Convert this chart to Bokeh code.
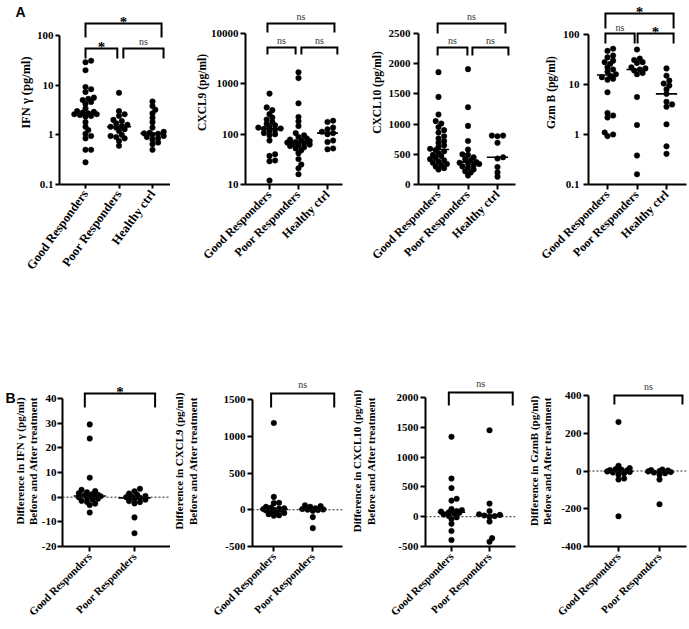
import numpy as np
from bokeh.plotting import figure
from bokeh.layouts import row, column
from bokeh.models import Range1d, FixedTicker, Span, Label
from bokeh.embed import file_html
from bokeh.resources import INLINE
from bokeh.core.properties import value

# ---------------- categories ----------------
groups_a = ["Good Responders", "Poor Responders", "Healthy ctrl"]
groups_b = ["Good Responders", "Poor Responders"]

# ---------------- panel A data (pg/ml) ----------------
ifng_good = [31, 29, 20, 9.2, 8.3, 7.3, 5.6, 5.3, 5.0, 4.6, 4.2, 3.4, 3.0, 2.9, 2.8, 2.7, 2.6, 2.6, 2.5, 2.4, 2.3, 1.8, 1.45, 1.25, 1.05, 0.95, 0.85, 0.5, 0.5, 0.28]
ifng_poor = [7.0, 3.0, 2.6, 2.4, 2.0, 1.9, 1.7, 1.6, 1.5, 1.45, 1.4, 1.3, 1.2, 1.0, 0.95, 0.9, 0.85, 0.75, 0.6]
ifng_healthy = [4.7, 3.8, 3.2, 2.7, 2.2, 1.8, 1.4, 1.15, 1.1, 1.07, 1.05, 1.0, 0.95, 0.9, 0.85, 0.8, 0.7, 0.65, 0.5]

cxcl9_good = [640, 340, 300, 250, 215, 195, 175, 160, 150, 140, 135, 130, 128, 122, 115, 105, 100, 95, 75, 40, 37, 30, 29, 12]
cxcl9_poor = [1700, 1300, 410, 220, 180, 145, 105, 95, 88, 82, 78, 76, 73, 70, 68, 66, 64, 62, 60, 58, 55, 52, 48, 42, 32, 25, 21, 16]
cxcl9_healthy = [185, 175, 135, 125, 112, 105, 100, 75, 70, 52, 50]

cxcl10_good = [1860, 1450, 1160, 1050, 1010, 950, 900, 860, 800, 760, 720, 690, 650, 620, 590, 570, 550, 520, 490, 470, 440, 420, 400, 380, 360, 340, 320, 300, 270, 250]
cxcl10_poor = [1910, 1280, 970, 720, 580, 500, 490, 450, 420, 400, 370, 360, 350, 340, 320, 300, 280, 250, 220, 200, 150]
cxcl10_healthy = [810, 800, 810, 690, 450, 430, 290, 200, 130]

gzmb_good = [52, 47, 38, 35, 30, 28, 26, 22, 20, 18, 16, 15, 14, 13, 12.5, 7, 2.7, 2.4, 2.2, 1.1, 1.0, 0.93]
gzmb_poor = [50, 33, 31, 28, 27, 22, 21, 20, 19, 17, 16, 5.6, 1.55, 0.38, 0.16]
gzmb_healthy = [21, 15, 12, 10.5, 9.5, 8, 6.5, 4.5, 4.0, 3.6, 1.6, 0.58, 0.41]

# ---------------- panel B data (difference before/after) ----------------
d_ifng_good = [29.5, 23.8, 7.9, 3.0, 2.5, 2.0, 1.6, 1.3, 1.0, 0.8, 0.6, 0.4, 0.2, 0.0, -0.3, -0.6, -1.0, -1.5, -2.0, -2.6, -3.2, -6.2]
d_ifng_poor = [3.4, 2.4, 1.5, 1.0, 0.5, 0.2, 0.0, -0.3, -0.6, -1.0, -1.6, -2.0, -2.5, -8.2, -14.6]
d_cxcl9_good = [1180, 175, 95, 90, 40, 30, 20, 15, 10, 5, 0, -5, -10, -20, -35, -45, -60, -75, -80]
d_cxcl9_poor = [60, 50, 40, 20, 10, 5, 0, -5, -15, -100, -250]
d_cxcl10_good = [1340, 640, 480, 300, 270, 130, 110, 95, 85, 75, 65, 55, 35, 10, -10, -40, -120, -240, -390]
d_cxcl10_poor = [1450, 220, 95, 40, 30, 20, 10, 0, -80, -360, -420]
d_gzmb_good = [260, 28, 15, 10, 8, 5, 3, 0, -2, -5, -8, -12, -20, -40, -45, -240]
d_gzmb_poor = [8, 5, 3, 0, -2, -5, -8, -12, -20, -45, -176]

# ---------------- tick values / labels ----------------
ifng_ticks = [0.1, 1, 10, 100]
ifng_tick_labels = ["0.1", "1", "10", "100"]
cxcl9_ticks = [10, 100, 1000, 10000]
cxcl9_tick_labels = ["10", "100", "1000", "10000"]
cxcl10_ticks = [0, 500, 1000, 1500, 2000, 2500]
cxcl10_tick_labels = ["0", "500", "1000", "1500", "2000", "2500"]
gzmb_ticks = [0.1, 1, 10, 100]
gzmb_tick_labels = ["0.1", "1", "10", "100"]
d_ifng_ticks = [-20, -10, 0, 10, 20, 30, 40]
d_ifng_tick_labels = ["-20", "-10", "0", "10", "20", "30", "40"]
d_cxcl9_ticks = [-500, 0, 500, 1000, 1500]
d_cxcl9_tick_labels = ["-500", "0", "500", "1000", "1500"]
d_cxcl10_ticks = [-500, 0, 500, 1000, 1500, 2000]
d_cxcl10_tick_labels = ["-500", "0", "500", "1000", "1500", "2000"]
d_gzmb_ticks = [-400, -200, 0, 200, 400]
d_gzmb_tick_labels = ["-400", "-200", "0", "200", "400"]

# significance: A = (Good vs Healthy, Good vs Poor, Poor vs Healthy); B = (Good vs Poor)
ifng_sig = ["*", "*", "ns"]
cxcl9_sig = ["ns", "ns", "ns"]
cxcl10_sig = ["ns", "ns", "ns"]
gzmb_sig = ["*", "ns", "*"]
d_ifng_sig = ["*"]
d_cxcl9_sig = ["ns"]
d_cxcl10_sig = ["ns"]
d_gzmb_sig = ["ns"]

SERIF = "Liberation Serif"

# ---------------- layout geometry (page pixels) ----------------
# columns: (figure left, figure right, frame left = y axis, frame right)
COLS = [(0, 170, 59, 170), (170, 348, 245, 342), (348, 521, 418, 515), (521, 689, 588, 686)]
# rows: (figure top, figure bottom, frame top, frame bottom)
ROW_A = (0, 368, 0, 184)
ROW_B = (368, 629, 375, 546)

panels_a = [
    dict(groups=groups_a, data=[ifng_good, ifng_poor, ifng_healthy], ylabel="IFN \u03b3 (pg/ml)",
         ticks=ifng_ticks, labels=ifng_tick_labels, sig=ifng_sig, ylog=True, bounds=(0.1, 100),
         cal=((100, 35), (0.1, 184)), c0=85, sp=33.5,
         brackets=[(0, 2.27, 23, 37), (0, 0.95, 48, 58), (1.13, 2.33, 48, 58)], ns_off=-7,
         tick_out=4, lab_so=2, axlab_so=1, xangle=0.94, xfs="12.5px", ylfs="12.5px"),
    dict(groups=groups_a, data=[cxcl9_good, cxcl9_poor, cxcl9_healthy], ylabel="CXCL9 (pg/ml)",
         ticks=cxcl9_ticks, labels=cxcl9_tick_labels, sig=cxcl9_sig, ylog=True, bounds=(10, 10000),
         cal=((10000, 33), (10, 184)), c0=269, sp=29,
         brackets=[(-0.07, 2.24, 23, 32), (-0.07, 0.9, 47, 54), (1.1, 2.34, 47, 54)], ns_off=-7,
         tick_out=5, lab_so=2, axlab_so=0, xangle=np.pi / 4, xfs="12px", ylfs="11.5px"),
    dict(groups=groups_a, data=[cxcl10_good, cxcl10_poor, cxcl10_healthy], ylabel="CXCL10 (pg/ml)",
         ticks=cxcl10_ticks, labels=cxcl10_tick_labels, sig=cxcl10_sig, ylog=False, bounds=(0, 2500),
         cal=((2500, 33), (0, 184)), c0=438, sp=29.5,
         brackets=[(-0.03, 2.27, 23, 33), (-0.03, 0.98, 47, 55), (1.15, 2.37, 47, 55)], ns_off=-7,
         tick_out=5, lab_so=3, axlab_so=3, xangle=np.pi / 4, xfs="12px", ylfs="11.5px"),
    dict(groups=groups_a, data=[gzmb_good, gzmb_poor, gzmb_healthy], ylabel="Gzm B (pg/ml)",
         ticks=gzmb_ticks, labels=gzmb_tick_labels, sig=gzmb_sig, ylog=True, bounds=(0.1, 100),
         cal=((100, 34), (0.1, 184)), c0=607, sp=29.5,
         brackets=[(-0.07, 2.24, 13, 28), (-0.07, 0.92, 33, 43), (1.02, 2.24, 33, 43)], ns_off=-6,
         tick_out=5, lab_so=4, axlab_so=3, xangle=np.pi / 4, xfs="12px", ylfs="11.5px"),
]
panels_b = [
    dict(groups=groups_b, data=[d_ifng_good, d_ifng_poor],
         ylabel="Difference in IFN \u03b3 (pg/ml)\nBefore and After treatment",
         ticks=d_ifng_ticks, labels=d_ifng_tick_labels, sig=d_ifng_sig, ylog=False, bounds=(-20, 40),
         cal=((40, 398), (-20, 546)), c0=87, sp=46,
         brackets=[(-0.11, 1.46, 393, 407)], ns_off=-9,
         tick_out=5, lab_so=1, axlab_so=0, xangle=np.pi / 4, xfs="11px", ylfs="11px"),
    dict(groups=groups_b, data=[d_cxcl9_good, d_cxcl9_poor],
         ylabel="Difference in CXCL9 (pg/ml)\nBefore and After treatment",
         ticks=d_cxcl9_ticks, labels=d_cxcl9_tick_labels, sig=d_cxcl9_sig, ylog=False, bounds=(-500, 1500),
         cal=((1500, 399), (-500, 546)), c0=268, sp=42,
         brackets=[(-0.07, 1.55, 393, 407)], ns_off=-9,
         tick_out=5, lab_so=2, axlab_so=22, xangle=np.pi / 4, xfs="11px", ylfs="11px"),
    dict(groups=groups_b, data=[d_cxcl10_good, d_cxcl10_poor],
         ylabel="Difference in CXCL10 (pg/ml)\nBefore and After treatment",
         ticks=d_cxcl10_ticks, labels=d_cxcl10_tick_labels, sig=d_cxcl10_sig, ylog=False, bounds=(-500, 2000),
         cal=((2000, 397), (-500, 546)), c0=446, sp=41,
         brackets=[(-0.07, 1.61, 392, 405)], ns_off=-9,
         tick_out=5, lab_so=2, axlab_so=17, xangle=np.pi / 4, xfs="11px", ylfs="11px"),
    dict(groups=groups_b, data=[d_gzmb_good, d_gzmb_poor],
         ylabel="Difference in GzmB (pg/ml)\nBefore and After treatment",
         ticks=d_gzmb_ticks, labels=d_gzmb_tick_labels, sig=d_gzmb_sig, ylog=False, bounds=(-400, 400),
         cal=((400, 395), (-400, 546)), c0=618, sp=41,
         brackets=[(-0.1, 1.56, 395, 404)], ns_off=-9,
         tick_out=5, lab_so=2, axlab_so=5, xangle=np.pi / 4, xfs="11px", ylfs="11px"),
]

DOT = 5.6
HALF_W = 13.0  # max horizontal half-spread of a group, px


def swarm(px_vals, diam, step, overlap=0.72):
    """deterministic beeswarm offsets (pixels) for dot centres at given pixel heights"""
    order = np.argsort(px_vals)
    cands = [0.0]
    k = 1
    while k * step <= HALF_W:
        cands += [k * step, -k * step]
        k += 1
    placed = []
    offs = np.zeros(len(px_vals))
    lim = diam * overlap
    for i in order:
        y = px_vals[i]
        best, best_d = 0.0, -1.0
        for c in cands:
            d = min([np.hypot(c - pxo, y - pyo) for pxo, pyo in placed] or [1e9])
            if d >= lim:
                best = c
                break
            if d > best_d + 1e-9:
                best, best_d = c, d
        offs[i] = best
        placed.append((best, y))
    return offs


def make_panel(c, col, rw, zero_line=False, letter=None):
    fx0, fx1, fl, fr = col
    rt, rb, ft, fb = rw
    W, H = fx1 - fx0, rb - rt
    xs = (fl - c["c0"]) / c["sp"]
    xe = (fr - c["c0"]) / c["sp"]
    ylog = c["ylog"]
    f = (lambda v: np.log10(v)) if ylog else (lambda v: v)
    finv = (lambda t: 10 ** t) if ylog else (lambda t: t)
    (vh, ryh), (vl, ryl) = c["cal"]
    per_px = (f(vh) - f(vl)) / (ryl - ryh)
    lo = f(vl) - (fb - ryl) * per_px
    hi = f(vh) + (ryh - ft) * per_px
    p = figure(width=W, height=H, x_range=Range1d(xs, xe), y_range=Range1d(finv(lo), finv(hi)),
               y_axis_type="log" if ylog else "linear", title=None,
               output_backend="svg", toolbar_location=None,
               min_border_left=fl - fx0, min_border_right=fx1 - fr,
               min_border_top=ft - rt, min_border_bottom=rb - fb)
    p.outline_line_color = None
    p.xgrid.visible = False
    p.ygrid.visible = False
    p.background_fill_color = "white"
    p.border_fill_color = "white"

    def to_px(v):
        return (f(np.asarray(v, dtype=float)) - lo) / per_px

    def ref_to_val(ry):
        return finv(lo + (fb - ry) * per_px)

    if zero_line:
        p.add_layout(Span(location=0, dimension="width", line_color="#222222",
                          line_width=1, line_dash="2 2"))

    # dots and medians
    for gi, vals in enumerate(c["data"]):
        vals = np.asarray(vals, dtype=float)
        offs = swarm(to_px(vals), DOT, DOT * 0.5)
        p.scatter(gi + offs / c["sp"], vals, size=DOT, color="black", line_color="black", line_width=0.4)
        med = float(np.median(vals))
        p.segment(x0=[gi - 0.36], x1=[gi + 0.36], y0=[med], y1=[med], line_color="black", line_width=1.6)

    # significance brackets
    bx, by, sx, sy, st, nx, ny, nt = [], [], [], [], [], [], [], []
    for (a, b, ly, leg), s in zip(c["brackets"], c["sig"]):
        yl, yg = ref_to_val(ly), ref_to_val(leg)
        bx.append([a, a, b, b])
        by.append([yg, yl, yl, yg])
        if s == "*":
            sx.append((a + b) / 2); sy.append(yl); st.append(s)
        else:
            nx.append((a + b) / 2); ny.append(yl); nt.append(s)
    p.multi_line(bx, by, line_color="black", line_width=2, line_join="miter")
    if st:
        p.text(sx, sy, text=st, text_align="center", text_baseline="alphabetic",
               text_font=value(SERIF), text_font_style="bold", text_font_size="15px",
               y_offset=-2, text_color="black")
    if nt:
        p.text(nx, ny, text=nt, text_align="center", text_baseline="alphabetic",
               text_font=value(SERIF), text_font_size="10px", y_offset=c["ns_off"], text_color="#333333")

    # axes
    xa, ya = p.xaxis[0], p.yaxis[0]
    xa.ticker = FixedTicker(ticks=list(range(len(c["groups"]))))
    xa.major_label_overrides = {i: g for i, g in enumerate(c["groups"])}
    xa.major_label_orientation = c["xangle"]
    xa.major_label_text_font_size = c["xfs"]
    xa.major_label_standoff = 3
    ya.ticker = FixedTicker(ticks=c["ticks"])
    ya.major_label_overrides = {t: l for t, l in zip(c["ticks"], c["labels"])}
    ya.bounds = c["bounds"]
    ya.axis_label = c["ylabel"]
    ya.axis_label_text_font = SERIF
    ya.axis_label_text_font_style = "bold"
    ya.axis_label_text_font_size = c["ylfs"]
    ya.axis_label_text_color = "black"
    ya.axis_label_text_line_height = 1.1
    ya.axis_label_standoff = c["axlab_so"]
    ya.major_label_standoff = c["lab_so"]
    ya.major_label_text_font_size = "11px"
    for ax in (xa, ya):
        ax.axis_line_width = 2
        ax.axis_line_color = "black"
        ax.major_tick_line_width = 2
        ax.major_tick_line_color = "black"
        ax.major_tick_in = 0
        ax.major_tick_out = c["tick_out"]
        ax.minor_tick_line_color = None
        ax.major_label_text_font = SERIF
        ax.major_label_text_font_style = "bold"
        ax.major_label_text_color = "black"

    if letter is not None:
        # panel letter in the left side panel (not clipped by the frame), placed in canvas pixels
        txt, lx, ly = letter
        lab = Label(x=lx - fx0, y=ly - rt, x_units="canvas", y_units="canvas",
                    text=txt, text_font="Liberation Sans", text_font_style="bold",
                    text_font_size="14px", text_baseline="top", text_color="black")
        p.add_layout(lab, "left")
    return p


figs_a = [make_panel(c, COLS[i], ROW_A, letter=("A", 15, 3) if i == 0 else None)
          for i, c in enumerate(panels_a)]
figs_b = [make_panel(c, COLS[i], ROW_B, zero_line=True, letter=("B", 5, 389) if i == 0 else None)
          for i, c in enumerate(panels_b)]

layout = column(row(*figs_a, spacing=0), row(*figs_b, spacing=0), spacing=0)
open("out.html", "w").write(file_html(layout, INLINE))
